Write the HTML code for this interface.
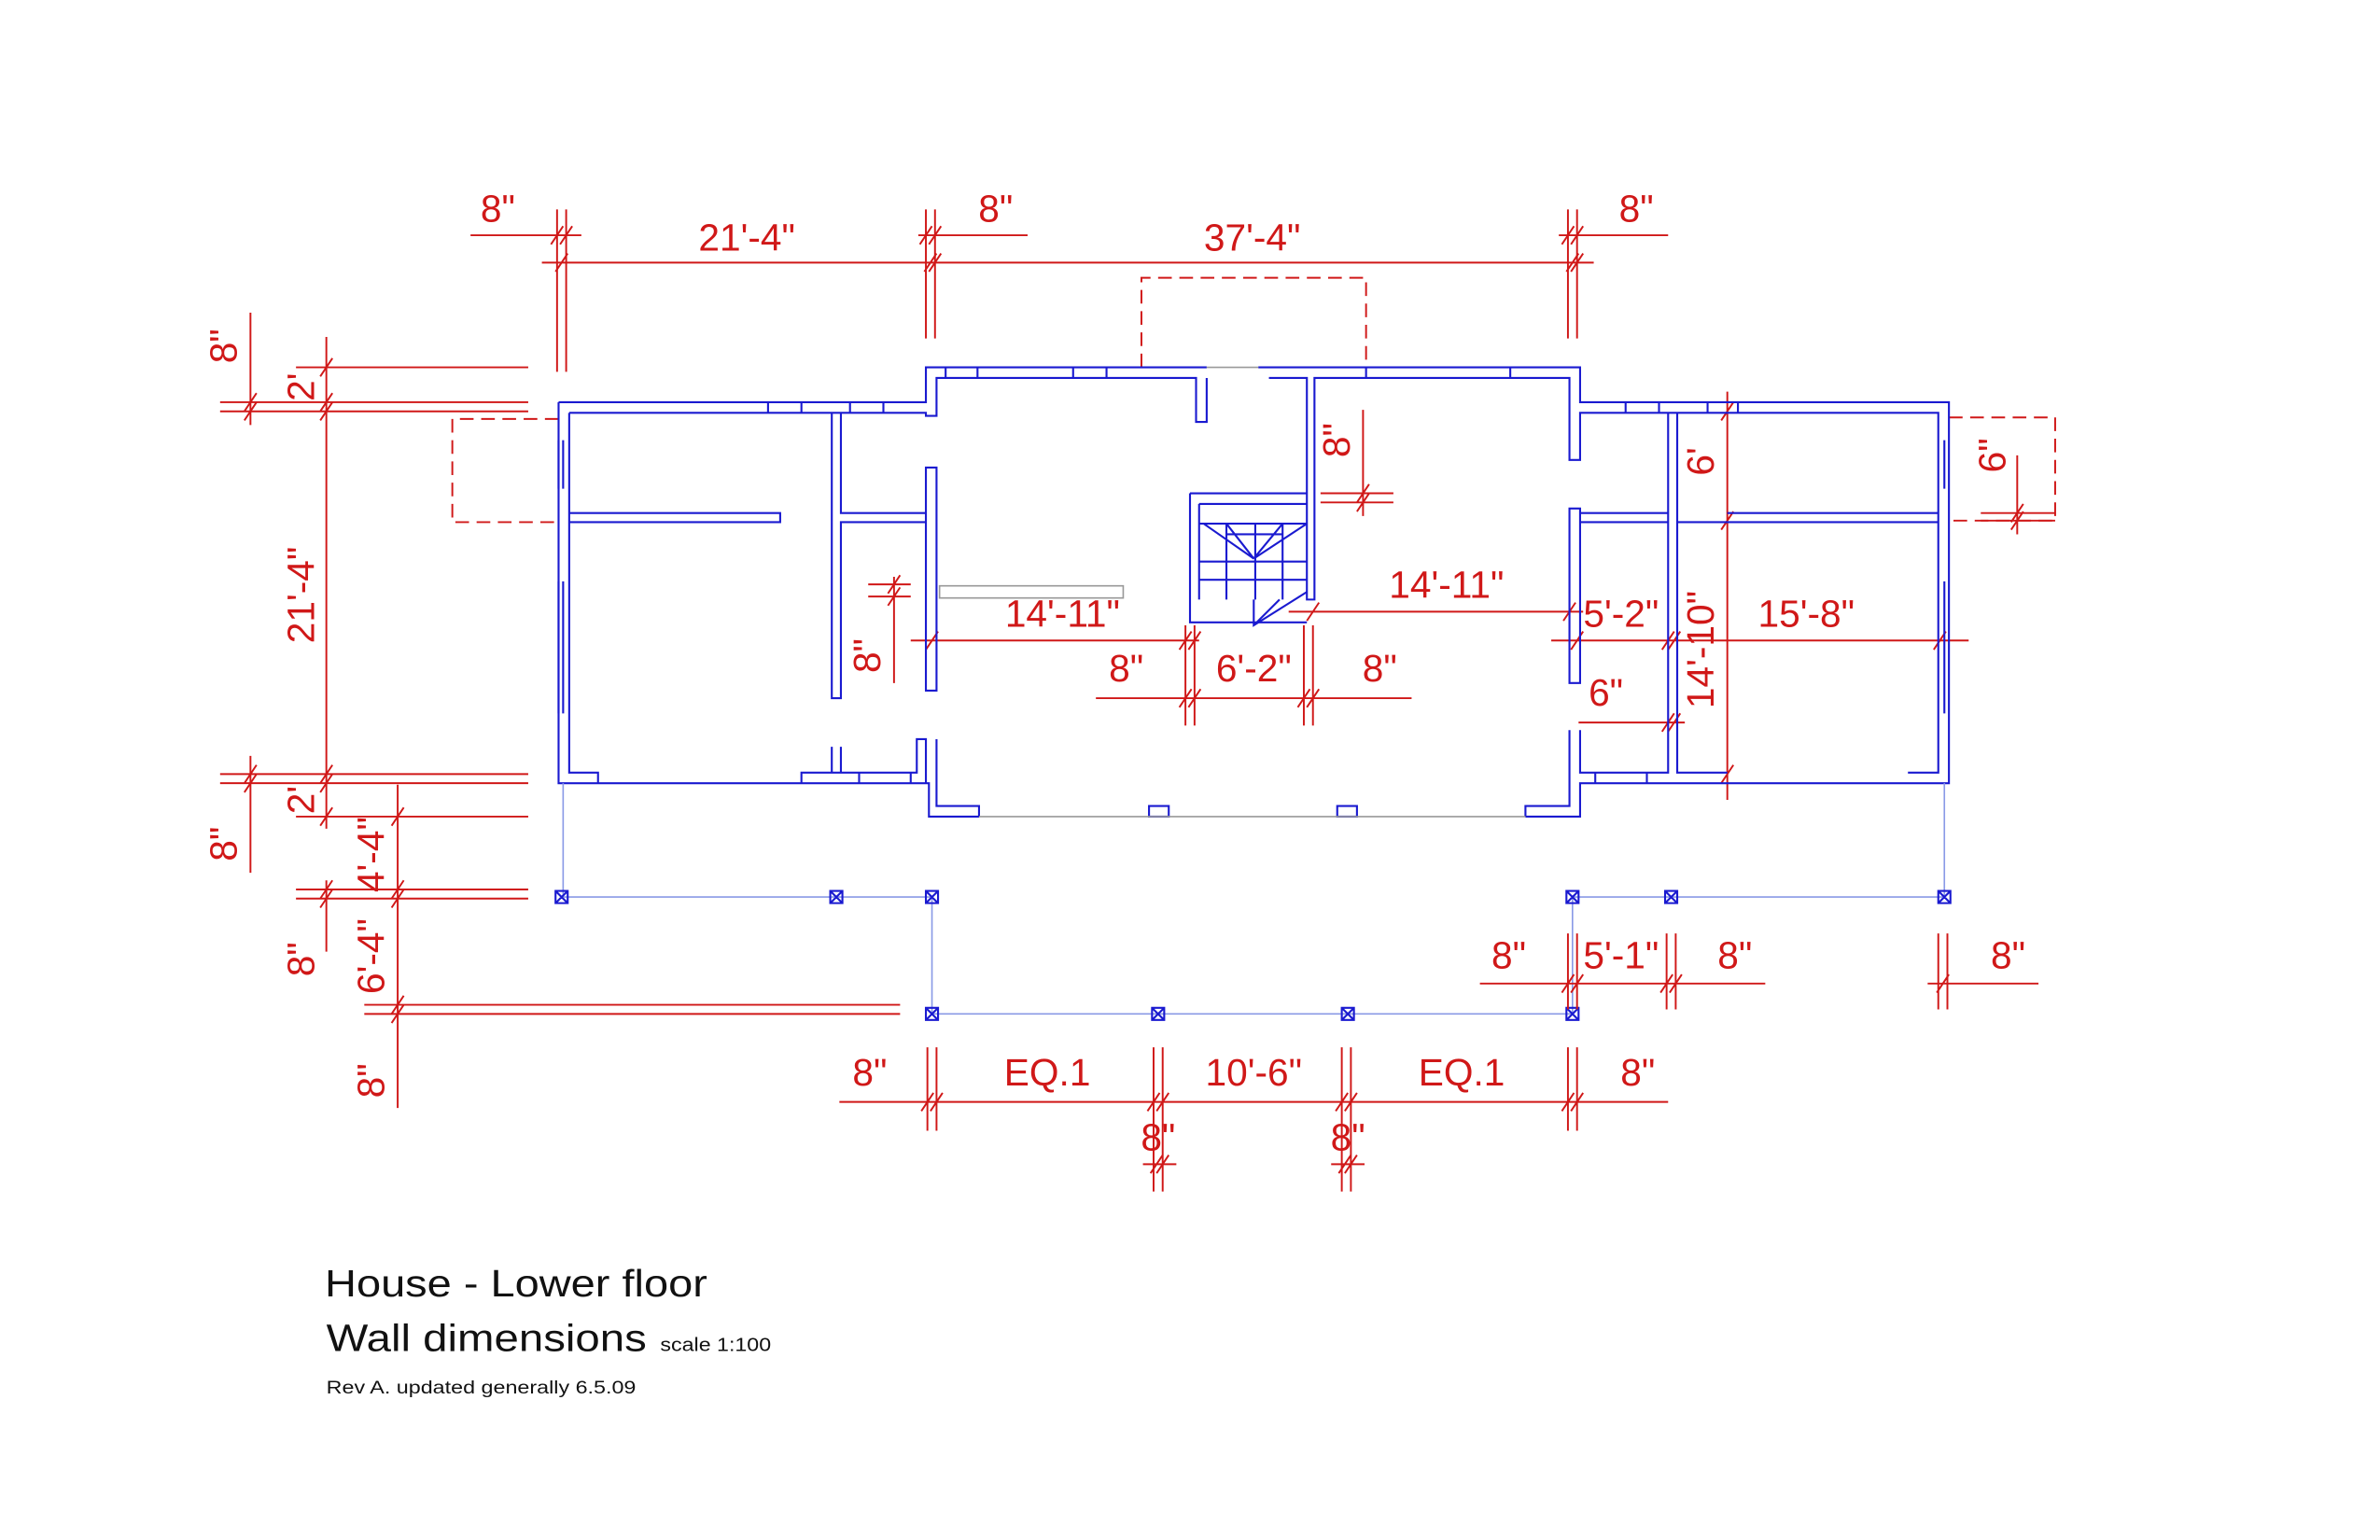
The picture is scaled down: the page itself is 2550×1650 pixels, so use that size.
<!DOCTYPE html>
<html><head><meta charset="utf-8"><style>
html,body{margin:0;padding:0;background:#fff;}
svg{display:block;}
text{font-family:"Liberation Sans",sans-serif;}
.r{stroke:#d01818;stroke-width:1.2;fill:none;}
.rt{fill:#d01818;font-size:25px;text-anchor:middle;}
.b{stroke:#1a1ad0;stroke-width:1.3;fill:none;}
.lb{stroke:#8a9ae6;stroke-width:1;fill:none;}
.g{stroke:#999;stroke-width:1;fill:none;}
</style></head><body>
<svg width="2550" height="1650" viewBox="0 0 1568 1014.6" xmlns="http://www.w3.org/2000/svg">
<rect width="1568" height="1015" fill="#fff"/>
<!-- TOP DIMENSIONS -->
<path class="r" d="M367 138V245M373 138V245M610 138V223M616 138V223M1033 138V223M1039 138V223
M310 155H383M605 155H677M1027 155H1099M357 173H1050"/>
<path class="r" d="M363 161l8-12M369 161l8-12M606 161l8-12M612 161l8-12M1029 161l8-12M1035 161l8-12
M366 179l8-12M609 179l8-12M612 179l8-12M1032 179l8-12M1035 179l8-12"/>
<text class="rt" x="328" y="146">8"</text>
<text class="rt" x="656" y="146">8"</text>
<text class="rt" x="1078" y="146">8"</text>
<text class="rt" x="492" y="165">21'-4"</text>
<text class="rt" x="825" y="165">37'-4"</text>
<path class="r" stroke-dasharray="9,5" d="M752 242V183H900V242"/>
<!-- LEFT DIMENSIONS -->
<path class="r" d="M195 242H348M145 265H348M145 271H348M145 510H348M145 516H348M195 538H348M195 586H348M195 592H348M240 662H593M240 668H593
M165 206V280M165 498V575M215 222V546M215 580V627M262 517V730"/>
<path class="r" d="M161 271l8-12M161 277l8-12M211 248l8-12M211 271l8-12M211 277l8-12M161 516l8-12M161 522l8-12M211 516l8-12M211 522l8-12M211 544l8-12
M211 592l8-12M211 598l8-12M258 544l8-12M258 592l8-12M258 598l8-12M258 668l8-12M258 674l8-12"/>
<g class="rt">
<text transform="translate(156,228) rotate(-90)">8"</text>
<text transform="translate(207,255) rotate(-90)">2'</text>
<text transform="translate(207,392) rotate(-90)">21'-4"</text>
<text transform="translate(207,527) rotate(-90)">2'</text>
<text transform="translate(156,556) rotate(-90)">8"</text>
<text transform="translate(253,563) rotate(-90)">4'-4"</text>
<text transform="translate(207,632) rotate(-90)">8"</text>
<text transform="translate(253,630) rotate(-90)">6'-4"</text>
<text transform="translate(253,712) rotate(-90)">8"</text>
</g>
<path class="r" stroke-dasharray="9,5" d="M368 276H298V344H368"/>
<path class="r" stroke-dasharray="9,5" d="M1284 275H1354V343H1284"/>
<path class="r" d="M1329 300V352M1305 338H1354M1305 343H1354M1325 344l8-12M1325 349l8-12"/>
<text class="rt" transform="translate(1321,300) rotate(-90)">6"</text>
<!-- INTERIOR DIMS -->
<path class="r" d="M1138 258V527M1134 277l8-12M1134 349l8-12M1134 516l8-12
M1022 422H1297M1035 428l8-12M1095 428l8-12M1099 428l8-12M1274 428l8-12
M849 403H1043M861 409l8-12M1030 409l8-12
M1040 476H1110M1095 482l8-12M1099 482l8-12
M600 422H790M610 428l8-12M777 428l8-12M783 428l8-12
M722 460H930M781 412V478M787 412V478M859 412V478M865 412V478M777 466l8-12M783 466l8-12M855 466l8-12M861 466l8-12
M589 380V450M572 385H600M572 393H600M585 391l8-12M585 399l8-12
M898 270V340M870 325H918M870 331H918M894 331l8-12M894 337l8-12"/>
<text class="rt" transform="translate(1129,304) rotate(-90)">6'</text>
<text class="rt" transform="translate(1129,428) rotate(-90)">14'-10"</text>
<text class="rt" x="1068" y="413">5'-2"</text>
<text class="rt" x="1190" y="413">15'-8"</text>
<text class="rt" x="953" y="394">14'-11"</text>
<text class="rt" x="1058" y="465">6"</text>
<text class="rt" x="700" y="413">14'-11"</text>
<text class="rt" x="742" y="449">8"</text>
<text class="rt" x="826" y="449">6'-2"</text>
<text class="rt" x="909" y="449">8"</text>
<text class="rt" transform="translate(580,432) rotate(-90)">8"</text>
<text class="rt" transform="translate(889,290) rotate(-90)">8"</text>
<!-- PLAN WALLS -->
<path class="b" d="M368 265H610V242H795M829 242H1041V265H1284V516H1041V538H1005M645 538H612V516H368V265
M375 272H610V274H617V249H788V278H795V249M836 249H861V395H866V249H1034V303H1041V272H1277V509H1257M1138 509H1105V272
M375 272V509H394V516M528 516V509H604V487H610V516M617 487V531H645V538M1034 481V531H1005V538M1041 481V509H1099V272
M610 308H617V455H610Z M1034 335H1041V450H1034Z
M375 338H514V344H375M548 272V460H554V344H610V338H554V272M548 492V509H554V492
M1041 338H1099M1041 344H1099V509M1105 338V344H1138M1138 338H1277M1138 344H1277
M784 325H861M784 325V410H861M790 332H861M790 332V395"/>
<path class="b" d="M790 345H861M790 370H861M790 382H861M808 345V395M827 345V395M845 345V395M808 352H845M826 368L793 345M826 368L808 345M826 368L845 345M826 368L861 345M826 395V412L861 390M826 412L843 395"/>
<path class="b" d="M757 531H770V538H757ZM881 531H894V538H881Z M623 242V249M644 242V249M707 242V249M729 242V249M900 242V249M995 242V249M506 265V272M528 265V272M560 265V272M582 265V272M1071 265V272M1093 265V272M1125 265V272M1145 265V272M566 509V516M600 509V516M1051 509V516M1085 509V516
M368 290V322M371 290V322M368 383V470M371 383V470M1281 290V322M1281 383V470"/>
<path class="g" d="M795 242H829M645 538H1005M619 386H740V394H619Z"/>
<!-- GRID -->
<path class="lb" d="M371 516V591M370 591H614V668H1036M614 591V668M1036 591V668M1036 591H1281M1281 516V591"/>
<g class="b" stroke-width="1.1">
<path d="M366 587h8v8h-8zm0 0l8 8m0-8l-8 8M547 587h8v8h-8zm0 0l8 8m0-8l-8 8M610 587h8v8h-8zm0 0l8 8m0-8l-8 8M1032 587h8v8h-8zm0 0l8 8m0-8l-8 8M1097 587h8v8h-8zm0 0l8 8m0-8l-8 8M1277 587h8v8h-8zm0 0l8 8m0-8l-8 8
M610 664h8v8h-8zm0 0l8 8m0-8l-8 8M759 664h8v8h-8zm0 0l8 8m0-8l-8 8M884 664h8v8h-8zm0 0l8 8m0-8l-8 8M1032 664h8v8h-8zm0 0l8 8m0-8l-8 8"/>
</g>
<!-- BOTTOM DIMS -->
<path class="r" d="M975 648H1163M1033 615V665M1039 615V665M1098 615V665M1104 615V665M1029 654l8-12M1035 654l8-12M1094 654l8-12M1100 654l8-12
M1270 648H1343M1277 615V665M1283 615V665M1276 654l8-12
M553 726H1099M611 690V745M617 690V745M760 690V785M766 690V785M884 690V785M890 690V785M1033 690V745M1039 690V745
M607 732l8-12M613 732l8-12M756 732l8-12M762 732l8-12M880 732l8-12M886 732l8-12M1029 732l8-12M1035 732l8-12
M753 767H775M877 767H899M758 773l8-12M762 773l8-12M882 773l8-12M886 773l8-12"/>
<text class="rt" x="994" y="638">8"</text>
<text class="rt" x="1068" y="638">5'-1"</text>
<text class="rt" x="1143" y="638">8"</text>
<text class="rt" x="1323" y="638">8"</text>
<text class="rt" x="573" y="715">8"</text>
<text class="rt" x="690" y="715">EQ.1</text>
<text class="rt" x="826" y="715">10'-6"</text>
<text class="rt" x="963" y="715">EQ.1</text>
<text class="rt" x="1079" y="715">8"</text>
<text class="rt" x="763" y="758">8"</text>
<text class="rt" x="888" y="758">8"</text>
<!-- TITLE -->
<text x="214" y="854" font-size="25" fill="#111" textLength="252" lengthAdjust="spacingAndGlyphs">House - Lower floor</text>
<text x="215" y="890" font-size="25" fill="#111" textLength="211" lengthAdjust="spacingAndGlyphs">Wall dimensions</text>
<text x="435" y="890" font-size="12.5" fill="#111" textLength="73" lengthAdjust="spacingAndGlyphs">scale 1:100</text>
<text x="215" y="918" font-size="12" fill="#111" textLength="204" lengthAdjust="spacingAndGlyphs">Rev A. updated generally 6.5.09</text>
</svg>
</body></html>
